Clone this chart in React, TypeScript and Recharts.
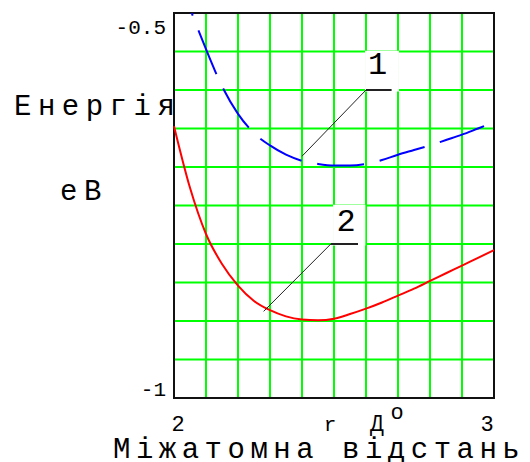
import React from 'react';
import {
    LineChart,
    Line,
    XAxis,
    YAxis,
    CartesianGrid,
    ReferenceArea,
    ReferenceLine,
    ReferenceDot,
    Customized,
} from 'recharts';

// interatomic distance, angstrom
const R_VALUES = [2.0, 2.05, 2.1, 2.15, 2.2, 2.25, 2.3, 2.35, 2.4, 2.45, 2.5, 2.55, 2.6, 2.65, 2.7, 2.75, 2.8, 2.85, 2.9, 2.95, 3.0];

// energy, eV
const CURVE_1 = [-0.436, -0.494, -0.547, -0.595, -0.631, -0.656, -0.672, -0.684, -0.692, -0.696, -0.698, -0.698, -0.696, -0.691, -0.684, -0.678, -0.672, -0.665, -0.658, -0.65, -0.642];
const CURVE_2 = [-0.647, -0.727, -0.787, -0.826, -0.854, -0.874, -0.886, -0.894, -0.898, -0.899, -0.897, -0.891, -0.884, -0.876, -0.867, -0.858, -0.848, -0.838, -0.828, -0.818, -0.808];

const X_TICKS = [2, 2.1, 2.2, 2.3, 2.4, 2.5, 2.6, 2.7, 2.8, 2.9, 3];
const Y_TICKS = [-1, -0.95, -0.9, -0.85, -0.8, -0.75, -0.7, -0.65, -0.6, -0.55, -0.5];

const data = R_VALUES.map((r, i) => ({ r, e1: CURVE_1[i], e2: CURVE_2[i] }));

const FONT = '"Liberation Mono", monospace';

const XTick = ({ x, payload }: any) => {
    if (payload.value !== 2 && payload.value !== 3) return null;
    return (
        <text x={x + (payload.value === 2 ? 4 : -7)} y={431} textAnchor="middle" fontFamily={FONT} fontSize={22} fill="#000">
            {payload.value}
        </text>
    );
};

const YTick = ({ x, y, payload }: any) => {
    if (payload.value !== -1 && payload.value !== -0.5) return null;
    return (
        <text x={x - 8} y={payload.value === -0.5 ? y + 21 : y - 2} textAnchor="end" fontFamily={FONT} fontSize={21} fill="#000">
            {payload.value}
        </text>
    );
};

const Titles = () => (
    <g fontFamily={FONT} fill="#000">
        <text x={14} y={115} fontSize={29} letterSpacing={6.5}>Енергія</text>
        <text x={60} y={200} fontSize={29} letterSpacing={6.5}>eB</text>
        <text x={330} y={431} fontSize={21} textAnchor="middle">r</text>
        <text x={377} y={431} fontSize={23} textAnchor="middle">Д</text>
        <text x={397} y={419} fontSize={22} textAnchor="middle">o</text>
        <text x={113} y={458} fontSize={29} letterSpacing={5.5}>Міжатомна відстань</text>
    </g>
);

export default function App() {
    return (
        <div style={{ position: 'absolute', left: 0, top: 0, width: 530, height: 462, background: '#fff' }}>
            <LineChart width={530} height={462} data={data} margin={{ top: 13, right: 36, bottom: 0, left: 0 }}>
                <CartesianGrid stroke="#00ff00" strokeWidth={2} />
                <XAxis
                    type="number"
                    dataKey="r"
                    domain={[2, 3]}
                    ticks={X_TICKS}
                    height={64}
                    axisLine={false}
                    tickLine={false}
                    tickSize={0}
                    tickMargin={0}
                    tick={<XTick />}
                />
                <YAxis
                    type="number"
                    domain={[-1, -0.5]}
                    ticks={Y_TICKS}
                    width={174}
                    allowDataOverflow
                    axisLine={false}
                    tickLine={false}
                    tickSize={0}
                    tickMargin={0}
                    tick={<YTick />}
                />
                {/* white patches behind the curve numbers */}
                <ReferenceArea x1={2.597} x2={2.703} y1={-0.602} y2={-0.549} fill="#fff" fillOpacity={1} stroke="none" />
                <ReferenceArea x1={2.497} x2={2.598} y1={-0.802} y2={-0.749} fill="#fff" fillOpacity={1} stroke="none" />
                <ReferenceArea x1={2} x2={3} y1={-1} y2={-0.5} fill="none" stroke="#111" strokeWidth={2} />
                <Line
                    type="monotone"
                    dataKey="e1"
                    stroke="#0000ff"
                    strokeWidth={2}
                    strokeDasharray="47 16"
                    strokeDashoffset={55}
                    dot={false}
                    activeDot={false}
                    isAnimationActive={false}
                />
                <Line
                    type="monotone"
                    dataKey="e2"
                    stroke="#ff0000"
                    strokeWidth={2}
                    dot={false}
                    activeDot={false}
                    isAnimationActive={false}
                />
                {/* leader lines for the curve numbers */}
                <ReferenceLine segment={[{ x: 2.4, y: -0.686 }, { x: 2.6, y: -0.6 }]} stroke="#222" strokeWidth={1} />
                <ReferenceLine segment={[{ x: 2.6, y: -0.6 }, { x: 2.68, y: -0.6 }]} stroke="#222" strokeWidth={2} />
                <ReferenceLine segment={[{ x: 2.28, y: -0.8875 }, { x: 2.49, y: -0.8 }]} stroke="#222" strokeWidth={1} />
                <ReferenceLine segment={[{ x: 2.49, y: -0.8 }, { x: 2.575, y: -0.8 }]} stroke="#222" strokeWidth={2} />
                <ReferenceDot x={2.636} y={-0.564} r={0} stroke="none" label={{ value: '1', position: 'center', fontSize: 32, fontFamily: FONT, fill: '#000' }} />
                <ReferenceDot x={2.5375} y={-0.769} r={0} stroke="none" label={{ value: '2', position: 'center', fontSize: 32, fontFamily: FONT, fill: '#000' }} />
                <Customized component={Titles} />
            </LineChart>
        </div>
    );
}
